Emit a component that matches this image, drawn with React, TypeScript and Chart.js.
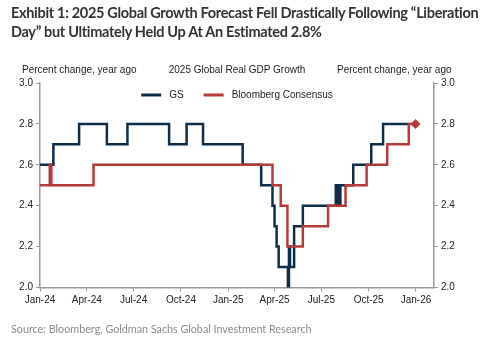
import React, { useEffect, useRef } from "react";
import { Chart, registerables } from "chart.js";

Chart.register(...registerables);

// Days since 1 Jan 2024
const xTickDays = [0, 91, 182, 274, 366, 456, 547, 639, 731];
const xTickLabels = ["Jan-24", "Apr-24", "Jul-24", "Oct-24", "Jan-25", "Apr-25", "Jul-25", "Oct-25", "Jan-26"];
const xMin = 0;
const xMax = 766;

const yTicks = [2.0, 2.2, 2.4, 2.6, 2.8, 3.0];

// GS forecast: day of change -> new value
const gsDays = [0, 26, 76, 130, 170, 251, 285, 317, 394, 430, 452, 456, 460, 464, 482, 484, 486, 494, 511, 575, 577, 580, 582, 584, 609, 644, 667, 717];
const gsValues = [2.6, 2.7, 2.8, 2.7, 2.8, 2.7, 2.8, 2.7, 2.6, 2.5, 2.4, 2.3, 2.2, 2.1, 2.0, 2.2, 2.1, 2.3, 2.4, 2.5, 2.4, 2.5, 2.4, 2.5, 2.6, 2.7, 2.8, 2.8];

// Bloomberg Consensus: day of change -> new value
const bbgDays = [0, 19, 22, 104, 452, 468, 481, 511, 560, 594, 635, 675, 717, 730];
const bbgValues = [2.5, 2.6, 2.5, 2.6, 2.5, 2.4, 2.2, 2.3, 2.4, 2.5, 2.6, 2.7, 2.8, 2.8];

const seriesNames = ["GS", "Bloomberg Consensus"];
const gsColor = "#0e2d48";
const bbgColor = "#b63a3c";

const titleText1 = "Exhibit 1: 2025 Global Growth Forecast Fell Drastically Following \u201CLiberation";
const titleText2 = "Day\u201D but Ultimately Held Up At An Estimated 2.8%";
const chartTitle = "2025 Global Real GDP Growth";
const axisTitle = "Percent change, year ago";
const sourceText = "Source: Bloomberg, Goldman Sachs Global Investment Research";

const FONT = "'Liberation Sans', Arial, sans-serif";

const legendPlugin = {
  id: "innerLegend",
  afterDatasetsDraw(chart: any) {
    const ctx = chart.ctx;
    const area = chart.chartArea;
    ctx.save();
    ctx.font = `10px ${FONT}`;
    ctx.textBaseline = "middle";
    const sample = 20;
    const gapText = 8;
    const gapItem = 20;
    const items = seriesNames.map((n, i) => ({
      name: n,
      color: chart.data.datasets[i].borderColor,
      w: ctx.measureText(n).width,
    }));
    let total = 0;
    items.forEach((it, i) => {
      total += sample + gapText + it.w + (i < items.length - 1 ? gapItem : 0);
    });
    let x = (area.left + area.right) / 2 - total / 2;
    const y = area.top + 12;
    items.forEach((it) => {
      ctx.strokeStyle = it.color;
      ctx.lineWidth = 3;
      ctx.beginPath();
      ctx.moveTo(x, y);
      ctx.lineTo(x + sample, y);
      ctx.stroke();
      x += sample + gapText;
      ctx.fillStyle = "#222";
      ctx.textAlign = "left";
      ctx.fillText(it.name, x, y + 0.5);
      x += it.w + gapItem;
    });
    ctx.restore();
  },
};

export default function App() {
  const ref = useRef<HTMLCanvasElement | null>(null);

  useEffect(() => {
    if (!ref.current) return;
    const lastIdx = bbgDays.length - 1;
    const chart = new Chart(ref.current, {
      type: "line",
      data: {
        datasets: [
          {
            label: seriesNames[0],
            data: gsDays.map((d, i) => ({ x: d, y: gsValues[i] })),
            borderColor: gsColor,
            backgroundColor: gsColor,
            borderWidth: 2.5,
            stepped: "before",
            pointRadius: 0,
            order: 1,
          },
          {
            label: seriesNames[1],
            data: bbgDays.map((d, i) => ({ x: d, y: bbgValues[i] })),
            borderColor: bbgColor,
            backgroundColor: bbgColor,
            borderWidth: 2.5,
            stepped: "before",
            pointStyle: "rectRot",
            pointRadius: (c: any) => (c.dataIndex === lastIdx ? 5 : 0),
            pointBorderWidth: 0,
            order: 0,
          },
        ],
      },
      options: {
        responsive: false,
        animation: false,
        devicePixelRatio: 1,
        layout: { padding: { top: 83, left: 0, right: 0, bottom: 0 } },
        plugins: {
          legend: { display: false },
          tooltip: { enabled: false },
          title: { display: false },
        },
        scales: {
          x: {
            type: "linear",
            min: xMin,
            max: xMax,
            afterBuildTicks: (scale: any) => {
              scale.ticks = xTickDays.map((v) => ({ value: v }));
            },
            afterFit: (scale: any) => {
              scale.height = 345 - 287.5;
            },
            ticks: {
              autoSkip: false,
              maxRotation: 0,
              color: "#222",
              font: { family: FONT, size: 10 },
              padding: 3,
              callback: (v: any) => {
                const i = xTickDays.indexOf(Number(v));
                return i >= 0 ? xTickLabels[i] : "";
              },
            },
            grid: {
              display: true,
              drawOnChartArea: false,
              drawTicks: true,
              tickLength: 4,
              color: "#9a9a9a",
              lineWidth: 1,
            },
            border: { display: true, color: "#9a9a9a", width: 1.5 },
          },
          y: {
            position: "left",
            min: 2,
            max: 3,
            afterBuildTicks: (scale: any) => {
              scale.ticks = yTicks.map((v) => ({ value: v }));
            },
            afterFit: (scale: any) => {
              scale.width = 40;
            },
            ticks: {
              color: "#222",
              font: { family: FONT, size: 10 },
              padding: 3,
              callback: (v: any) => Number(v).toFixed(1),
            },
            grid: {
              drawOnChartArea: false,
              drawTicks: true,
              tickLength: 4,
              color: "#9a9a9a",
            },
            border: { display: true, color: "#9a9a9a", width: 1.5 },
          },
          y2: {
            position: "right",
            min: 2,
            max: 3,
            afterBuildTicks: (scale: any) => {
              scale.ticks = yTicks.map((v) => ({ value: v }));
            },
            afterFit: (scale: any) => {
              scale.width = 66;
            },
            ticks: {
              color: "#222",
              font: { family: FONT, size: 10 },
              padding: 3,
              callback: (v: any) => Number(v).toFixed(1),
            },
            grid: {
              drawOnChartArea: false,
              drawTicks: true,
              tickLength: 4,
              color: "#9a9a9a",
            },
            border: { display: true, color: "#9a9a9a", width: 1.5 },
          },
        },
      } as any,
      plugins: [legendPlugin],
    });
    return () => chart.destroy();
  }, []);

  const small: React.CSSProperties = {
    position: "absolute",
    top: 64,
    fontFamily: FONT,
    fontSize: 10,
    color: "#222",
    whiteSpace: "nowrap",
    lineHeight: "12px",
  };

  return (
    <div style={{ position: "absolute", left: 0, top: 0, width: 500, height: 345, background: "#fff", overflow: "hidden" }}>
      <canvas ref={ref} width={500} height={345} style={{ position: "absolute", left: 0, top: 0, width: 500, height: 345 }} />
      <div
        style={{
          position: "absolute",
          left: 11,
          top: 3,
          fontFamily: "Lato, 'Open Sans', sans-serif",
          fontWeight: 700,
          fontSize: 14.5,
          letterSpacing: -0.32,
          lineHeight: "19px",
          color: "#333",
          whiteSpace: "nowrap",
        }}
      >
        {titleText1}
        <br />
        {titleText2}
      </div>
      <div style={{ ...small, left: 22 }}>{axisTitle}</div>
      <div style={{ ...small, left: 237, transform: "translateX(-50%)" }}>{chartTitle}</div>
      <div style={{ ...small, left: 337 }}>{axisTitle}</div>
      <div
        style={{
          position: "absolute",
          left: 11,
          top: 322,
          fontFamily: "Lato, 'Open Sans', sans-serif",
          fontSize: 10.75,
          lineHeight: "14px",
          color: "#8a8a8a",
          whiteSpace: "nowrap",
        }}
      >
        {sourceText}
      </div>
    </div>
  );
}
